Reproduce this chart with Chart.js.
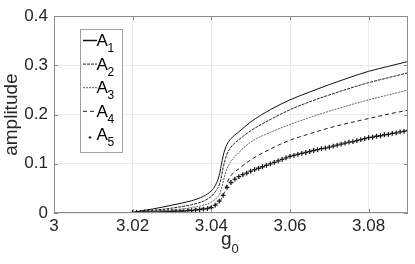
<!doctype html>
<html lang="en">
<head>
    <meta charset="utf-8">
    <title>amplitude vs g0</title>
    <script src="https://cdn.jsdelivr.net/npm/chart.js"></script>
    <style>
        body { margin: 0; padding: 0; background: #fff; }
        #wrap { width: 415px; height: 264px; position: relative; }
    </style>
</head>
<body>
    <div id="wrap"><canvas id="ampChart"></canvas></div>
    <script>
        // shared g0 grid for the four line series
        const gGrid = [3.0195, 3.025, 3.03, 3.035, 3.038, 3.04, 3.041, 3.042, 3.0425, 3.043, 3.0435, 3.044,
                       3.045, 3.047, 3.05, 3.055, 3.06, 3.065, 3.07, 3.075, 3.08, 3.085, 3.09];
        const ampA1 = [0.001, 0.008, 0.016, 0.025, 0.034, 0.045, 0.056, 0.076, 0.096, 0.116, 0.130, 0.140,
                       0.151, 0.165, 0.185, 0.210, 0.230, 0.246, 0.261, 0.275, 0.288, 0.298, 0.308];
        const ampA2 = [0.000, 0.005, 0.010, 0.017, 0.024, 0.034, 0.043, 0.057, 0.071, 0.092, 0.108, 0.120,
                       0.134, 0.149, 0.167, 0.190, 0.210, 0.226, 0.240, 0.253, 0.265, 0.275, 0.285];
        const ampA3 = [0.000, 0.003, 0.006, 0.011, 0.016, 0.022, 0.028, 0.037, 0.048, 0.063, 0.079, 0.091,
                       0.105, 0.123, 0.144, 0.164, 0.180, 0.194, 0.207, 0.219, 0.230, 0.240, 0.250];
        const ampA4 = [0.000, 0.002, 0.004, 0.007, 0.010, 0.013, 0.017, 0.022, 0.028, 0.036, 0.046, 0.061,
                       0.076, 0.090, 0.108, 0.130, 0.148, 0.161, 0.173, 0.183, 0.192, 0.201, 0.209];

        // A5 is plotted with markers on a finer grid
        const gFine = [3.020, 3.021, 3.022, 3.023, 3.024, 3.025, 3.026, 3.027, 3.028, 3.029,
                       3.030, 3.031, 3.032, 3.033, 3.034, 3.035, 3.036, 3.037, 3.038, 3.039,
                       3.040, 3.041, 3.042, 3.043, 3.044, 3.045, 3.046, 3.047, 3.048, 3.049,
                       3.050, 3.051, 3.052, 3.053, 3.054, 3.055, 3.056, 3.057, 3.058, 3.059,
                       3.060, 3.061, 3.062, 3.063, 3.064, 3.065, 3.066, 3.067, 3.068, 3.069,
                       3.070, 3.071, 3.072, 3.073, 3.074, 3.075, 3.076, 3.077, 3.078, 3.079,
                       3.080, 3.081, 3.082, 3.083, 3.084, 3.085, 3.086, 3.087, 3.088, 3.089, 3.090];
        const ampA5 = [0.001, 0.001, 0.001, 0.002, 0.002, 0.002, 0.002, 0.003, 0.003, 0.003,
                       0.003, 0.004, 0.004, 0.004, 0.005, 0.005, 0.006, 0.007, 0.008, 0.009,
                       0.011, 0.016, 0.024, 0.036, 0.052, 0.062, 0.069, 0.074, 0.078, 0.081,
                       0.085, 0.088, 0.091, 0.094, 0.097, 0.100, 0.103, 0.106, 0.109, 0.112,
                       0.115, 0.117, 0.119, 0.121, 0.123, 0.125, 0.127, 0.129, 0.131, 0.132,
                       0.134, 0.136, 0.138, 0.140, 0.142, 0.144, 0.145, 0.147, 0.149, 0.151,
                       0.153, 0.154, 0.156, 0.157, 0.159, 0.160, 0.162, 0.163, 0.165, 0.166, 0.168];

        const seriesNames = ['A1', 'A2', 'A3', 'A4', 'A5'];
        const xTicks = [3, 3.02, 3.04, 3.06, 3.08];
        const yTicks = [0, 0.1, 0.2, 0.3, 0.4];

        const FONT = '"Liberation Sans", Arial, sans-serif';
        const boxColor = '#8c8c8c';
        const textColor = '#262626';

        function pts(xs, ys) {
            return xs.map((x, i) => ({ x: x, y: ys[i] }));
        }

        const lineStyle = {
            borderWidth: 1,
            pointRadius: 0,
            fill: false,
            cubicInterpolationMode: 'monotone'
        };

        // inward ticks, box, custom legend and subscripted x title
        const matlabAxes = {
            id: 'matlabAxes',
            afterDraw(chart) {
                const ctx = chart.ctx;
                const a = chart.chartArea;
                const xs = chart.scales.x, ys = chart.scales.y;
                ctx.save();
                ctx.strokeStyle = boxColor;
                ctx.lineWidth = 1;
                ctx.strokeRect(Math.round(a.left) + 0.5, Math.round(a.top) + 0.5,
                    Math.round(a.right - a.left) - 1, Math.round(a.bottom - a.top) - 1);
                ctx.beginPath();
                xTicks.forEach(v => {
                    const px = Math.round(xs.getPixelForValue(v)) + 0.5;
                    ctx.moveTo(px, a.bottom); ctx.lineTo(px, a.bottom - 4);
                    ctx.moveTo(px, a.top); ctx.lineTo(px, a.top + 4);
                });
                yTicks.forEach(v => {
                    const py = Math.round(ys.getPixelForValue(v)) + 0.5;
                    ctx.moveTo(a.left, py); ctx.lineTo(a.left + 4, py);
                    ctx.moveTo(a.right, py); ctx.lineTo(a.right - 4, py);
                });
                ctx.stroke();

                // legend
                const lx = 80.5, ly = 29.5, lw = 42, lh = 123;
                ctx.fillStyle = '#fff';
                ctx.fillRect(lx, ly, lw, lh);
                ctx.strokeStyle = '#a0a0a0';
                ctx.strokeRect(lx, ly, lw, lh);
                chart.data.datasets.forEach((ds, i) => {
                    const cy = 40 + i * 23.6;
                    if (ds.showLine === false) {
                        ctx.strokeStyle = ds.borderColor;
                        ctx.setLineDash([]);
                        ctx.beginPath();
                        ctx.moveTo(88.5, cy + 3); ctx.lineTo(91.5, cy + 3);
                        ctx.moveTo(90, cy + 1.5); ctx.lineTo(90, cy + 4.5);
                        ctx.stroke();
                    } else {
                        ctx.strokeStyle = ds.borderColor;
                        ctx.lineWidth = i === 0 ? 1.5 : 1;
                        ctx.setLineDash(ds.borderDash || []);
                        ctx.beginPath();
                        ctx.moveTo(83, cy + 0.5); ctx.lineTo(97, cy + 0.5);
                        ctx.stroke();
                        ctx.lineWidth = 1;
                    }
                    ctx.setLineDash([]);
                    ctx.fillStyle = '#000';
                    ctx.textBaseline = 'alphabetic';
                    ctx.textAlign = 'left';
                    ctx.font = '17px ' + FONT;
                    ctx.fillText(ds.label.charAt(0), 96.5, cy + 6);
                    ctx.font = '12px ' + FONT;
                    ctx.fillText(ds.label.slice(1), 107.5, cy + 12);
                });

                // x title g0
                ctx.fillStyle = textColor;
                ctx.font = '19px ' + FONT;
                ctx.textAlign = 'left';
                ctx.fillText('g', 221, 245);
                ctx.font = '13px ' + FONT;
                ctx.fillText('0', 231.5, 253);
                ctx.restore();
            }
        };

        const ampChart = new Chart(document.getElementById('ampChart').getContext('2d'), {
            type: 'line',
            data: {
                datasets: [
                    Object.assign({ label: seriesNames[0], data: pts(gGrid, ampA1), borderColor: '#111' }, lineStyle),
                    Object.assign({ label: seriesNames[1], data: pts(gGrid, ampA2), borderColor: '#222', borderDash: [3, 1] }, lineStyle),
                    Object.assign({ label: seriesNames[2], data: pts(gGrid, ampA3), borderColor: '#666', borderDash: [2, 1] }, lineStyle),
                    Object.assign({ label: seriesNames[3], data: pts(gGrid, ampA4), borderColor: '#222', borderDash: [4, 3] }, lineStyle),
                    {
                        label: seriesNames[4],
                        data: pts(gFine, ampA5),
                        showLine: false,
                        pointStyle: 'cross',
                        pointRadius: 2.4,
                        pointBorderWidth: 1.3,
                        borderColor: '#1a1a1a',
                        backgroundColor: '#1a1a1a'
                    }
                ]
            },
            options: {
                responsive: true,
                maintainAspectRatio: false,
                animation: false,
                layout: { padding: { top: 15, right: 7, left: 0, bottom: 0 } },
                plugins: {
                    legend: { display: false },
                    tooltip: { enabled: false }
                },
                scales: {
                    x: {
                        type: 'linear',
                        min: 3,
                        max: 3.09,
                        afterBuildTicks: s => { s.ticks = xTicks.map(v => ({ value: v })); },
                        afterFit: s => { s.height = 51; },
                        grid: { color: '#ebebeb', drawTicks: false },
                        border: { display: false },
                        ticks: {
                            color: textColor,
                            font: { family: FONT, size: 17 },
                            padding: 3,
                            maxRotation: 0,
                            callback: v => String(v)
                        }
                    },
                    y: {
                        min: 0,
                        max: 0.4,
                        afterBuildTicks: s => { s.ticks = yTicks.map(v => ({ value: v })); },
                        afterFit: s => { s.width = 54; },
                        grid: { color: '#ebebeb', drawTicks: false },
                        border: { display: false },
                        title: {
                            display: true,
                            text: 'amplitude',
                            color: textColor,
                            font: { family: FONT, size: 19 },
                            padding: { top: 0, bottom: 0 }
                        },
                        ticks: {
                            color: textColor,
                            font: { family: FONT, size: 17 },
                            padding: 6,
                            callback: v => String(v)
                        }
                    }
                }
            },
            plugins: [matlabAxes]
        });
    </script>
</body>
</html>
